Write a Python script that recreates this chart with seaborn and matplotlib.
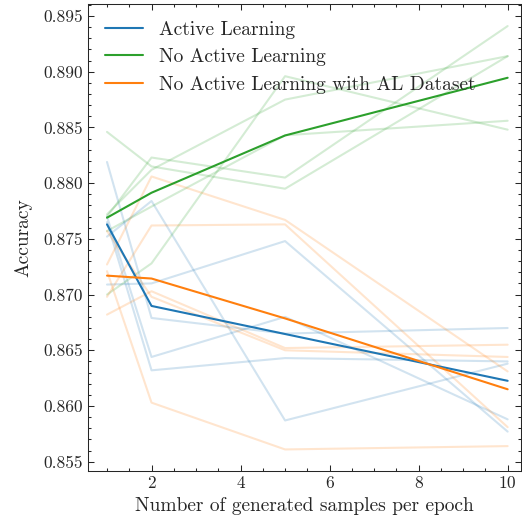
import numpy as np
import pandas as pd
import matplotlib
matplotlib.use("Agg")
import matplotlib.pyplot as plt
from matplotlib.ticker import MultipleLocator
import seaborn as sns

# --- data (5 runs per setting) ---
samples = [1, 2, 5, 10]
labels = ["Active Learning", "No Active Learning", "No Active Learning with AL Dataset"]

al_runs = [
    [0.8709, 0.8710, 0.8748, 0.8577],
    [0.8752, 0.8784, 0.8587, 0.8638],
    [0.8819, 0.8679, 0.8665, 0.8670],
    [0.8770, 0.8644, 0.8680, 0.8588],
    [0.8765, 0.8632, 0.8643, 0.8640],
]
noal_runs = [
    [0.8846, 0.8815, 0.8795, 0.8914],
    [0.8770, 0.8823, 0.8805, 0.8941],
    [0.8772, 0.8812, 0.8875, 0.8914],
    [0.8757, 0.8779, 0.8843, 0.8856],
    [0.8700, 0.8728, 0.8896, 0.8848],
]
noal_ds_runs = [
    [0.8727, 0.8806, 0.8767, 0.8631],
    [0.8698, 0.8762, 0.8763, 0.8581],
    [0.8682, 0.8703, 0.8652, 0.8655],
    [0.8757, 0.8698, 0.8650, 0.8644],
    [0.8721, 0.8603, 0.8561, 0.8564],
]
colors = ["#1f77b4", "#2ca02c", "#ff7f0e"]

rows = []
for label, runs in zip(labels, [al_runs, noal_runs, noal_ds_runs]):
    for r, run in enumerate(runs):
        for x, acc in zip(samples, run):
            rows.append({"method": label, "run": r, "samples": x, "acc": acc})
df = pd.DataFrame(rows)

# --- style (science-like look) ---
sns.set_style("ticks")
plt.rcParams.update({
    "font.family": "serif",
    "font.serif": ["cmr10", "DejaVu Serif"],
    "mathtext.fontset": "cm",
    "axes.formatter.use_mathtext": True,
    "font.size": 14,
    "xtick.labelsize": 12.5,
    "ytick.labelsize": 12.5,
    "axes.labelsize": 14,
    "legend.fontsize": 14,
    "axes.linewidth": 0.75,
    "xtick.direction": "in",
    "ytick.direction": "in",
    "xtick.top": True,
    "ytick.right": True,
    "xtick.major.size": 4.5,
    "ytick.major.size": 4.5,
    "xtick.minor.size": 2.25,
    "ytick.minor.size": 2.25,
    "xtick.major.width": 0.75,
    "ytick.major.width": 0.75,
    "xtick.minor.width": 0.75,
    "ytick.minor.width": 0.75,
    "xtick.minor.visible": True,
    "ytick.minor.visible": True,
})

fig = plt.figure(figsize=(5.22, 5.25), dpi=100)
ax = fig.add_axes([88 / 522, 1 - 470.5 / 525, (521 - 88) / 522, (470.5 - 4) / 525])

palette = dict(zip(labels, colors))

# faint individual runs
sns.lineplot(data=df, x="samples", y="acc", hue="method", units="run",
             estimator=None, palette=palette, alpha=0.2, linewidth=1.5,
             legend=False, ax=ax)
# mean over runs
sns.lineplot(data=df, x="samples", y="acc", hue="method", errorbar=None,
             palette=palette, linewidth=1.5, ax=ax)

ax.set_xlim(0.573, 10.30)
ax.set_ylim(0.85421, 0.89608)
ax.xaxis.set_major_locator(MultipleLocator(2))
ax.xaxis.set_minor_locator(MultipleLocator(0.5))
ax.yaxis.set_major_locator(MultipleLocator(0.005))
ax.yaxis.set_minor_locator(MultipleLocator(0.001))
ax.yaxis.set_major_formatter(plt.FormatStrFormatter("%.3f"))

ax.set_xlabel("Number of generated samples per epoch")
ax.set_ylabel("Accuracy", labelpad=8)
ax.legend(loc="upper left", frameon=False, title=None,
          borderaxespad=0.45, labelspacing=0.5)

fig.savefig("out.png", dpi=100)
